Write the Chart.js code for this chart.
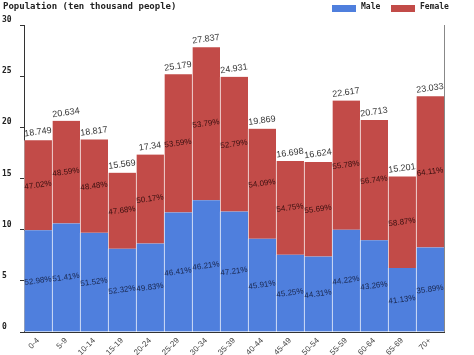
<!DOCTYPE html>
<html><head><meta charset="utf-8">
<script src="https://cdn.jsdelivr.net/npm/chart.js@4/dist/chart.umd.min.js"></script>
<style>html,body{margin:0;padding:0;background:#fff;}canvas{display:block;}</style>
</head><body>
<canvas id="c" width="474" height="355"></canvas>
<script>
const categories = ["0-4","5-9","10-14","15-19","20-24","25-29","30-34","35-39","40-44","45-49","50-54","55-59","60-64","65-69","70+"];
const totals = [18.749,20.634,18.817,15.569,17.34,25.179,27.837,24.931,19.869,16.698,16.624,22.617,20.713,15.201,23.033];
const malePct = [52.98,51.41,51.52,52.32,49.83,46.41,46.21,47.21,45.91,45.25,44.31,44.22,43.26,41.13,35.89];
const femalePct = [47.02,48.59,48.48,47.68,50.17,53.59,53.79,52.79,54.09,54.75,55.69,55.78,56.74,58.87,64.11];
const maleValues = [9.933,10.608,9.695,8.146,8.641,11.686,12.863,11.770,9.122,7.556,7.366,10.001,8.960,6.252,8.267];
const femaleValues = [8.816,10.026,9.122,7.423,8.699,13.493,14.974,13.161,10.747,9.142,9.258,12.616,11.753,8.949,14.766];
const yTicks = [0,5,10,15,20,25,30];

const BLUE = '#4f7fdd', RED = '#c24b48';

const deco = {
  id: 'deco',
  afterDatasetsDraw(chart) {
    const ctx = chart.ctx, a = chart.chartArea;
    ctx.save();
    ctx.strokeStyle = '#888'; ctx.lineWidth = 1;
    ctx.beginPath(); ctx.moveTo(Math.round(a.right)+0.5, a.top); ctx.lineTo(Math.round(a.right)+0.5, a.bottom); ctx.stroke();
    const mMeta = chart.getDatasetMeta(0), fMeta = chart.getDatasetMeta(1);
    const ang = -8 * Math.PI / 180;
    function rtext(t, x, y, font, color) {
      ctx.save(); ctx.translate(x, y); ctx.rotate(ang);
      ctx.font = font; ctx.fillStyle = color; ctx.textAlign = 'center'; ctx.textBaseline = 'middle';
      ctx.fillText(t, 0, 0); ctx.restore();
    }
    mMeta.data.forEach((el, i) => {
      const cy = (el.y + el.base) / 2;
      rtext(malePct[i].toFixed(2) + '%', el.x, cy, '8px "Liberation Sans", Arial, sans-serif', '#1a2850');
    });
    fMeta.data.forEach((el, i) => {
      const cy = (el.y + el.base) / 2;
      rtext(femalePct[i].toFixed(2) + '%', el.x, cy, '8px "Liberation Sans", Arial, sans-serif', '#3a1010');
      rtext(String(totals[i]), el.x, el.y - 8, '9px "Liberation Sans", Arial, sans-serif', '#333');
    });
    ctx.font = 'bold 9px "DejaVu Sans Mono", monospace';
    ctx.fillStyle = '#222'; ctx.textAlign = 'left'; ctx.textBaseline = 'middle';
    ctx.fillText('Population (ten thousand people)', 3, 7);
    ctx.font = 'bold 8px "DejaVu Sans Mono", monospace';
    ctx.fillStyle = BLUE; ctx.fillRect(332, 5, 24, 7);
    ctx.fillStyle = '#222'; ctx.fillText('Male', 361, 7);
    ctx.fillStyle = RED; ctx.fillRect(391, 5, 24, 7);
    ctx.fillStyle = '#222'; ctx.fillText('Female', 420, 7);
    ctx.restore();
  }
};

new Chart(document.getElementById('c'), {
  type: 'bar',
  data: {
    labels: categories,
    datasets: [
      { label: 'Male', data: maleValues, backgroundColor: BLUE, borderColor: 'rgba(255,255,255,0.6)', borderWidth: {left:1,right:0,top:0,bottom:0}, borderSkipped: false, barPercentage: 1, categoryPercentage: 1 },
      { label: 'Female', data: femaleValues, backgroundColor: RED, borderColor: 'rgba(255,255,255,0.6)', borderWidth: {left:1,right:0,top:0,bottom:0}, borderSkipped: false, barPercentage: 1, categoryPercentage: 1 }
    ]
  },
  options: {
    responsive: false,
    animation: false,
    devicePixelRatio: 1,
    layout: { padding: { top: 25, right: 30, left: 2, bottom: 0 } },
    plugins: { legend: { display: false }, title: { display: false }, tooltip: { enabled: false } },
    scales: {
      x: {
        stacked: true,
        grid: { display: false, drawTicks: false },
        border: { display: true, color: '#333' },
        ticks: { maxRotation: 45, minRotation: 45, padding: 4, color: '#444', font: { family: '"Liberation Sans", Arial, sans-serif', size: 8 } },
        afterFit(s) { s.height = 23; }
      },
      y: {
        stacked: true,
        min: 0, max: 30,
        afterBuildTicks(s) { s.ticks = yTicks.map(v => ({ value: v })); },
        grid: { drawOnChartArea: false, tickLength: 4, color: '#333' },
        border: { display: true, color: '#333' },
        ticks: { crossAlign: 'far', labelOffset: -5, color: '#222', font: { family: '"DejaVu Sans Mono", monospace', size: 8, weight: 'bold' } },
        afterFit(s) { s.width = 22; }
      }
    }
  },
  plugins: [deco]
});
</script>
</body></html>
